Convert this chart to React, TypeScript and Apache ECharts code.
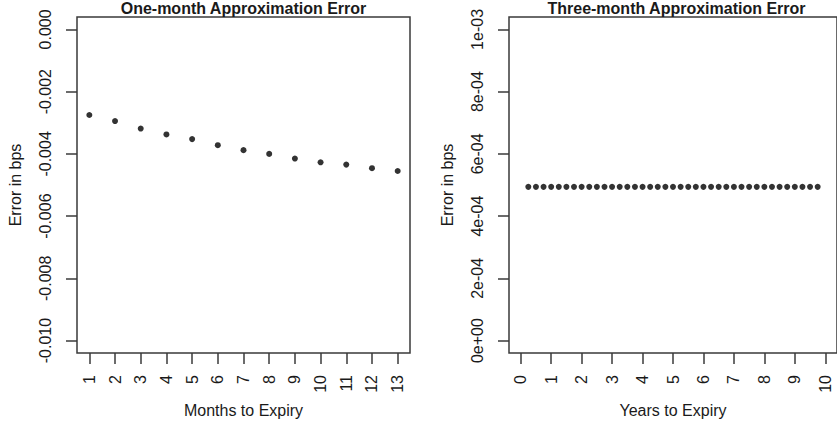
import React, { useEffect, useRef } from "react";
import * as echarts from "echarts";

// Left panel: one-month approximation error
const monthsToExpiry = [1, 2, 3, 4, 5, 6, 7, 8, 9, 10, 11, 12, 13];
const oneMonthError = [
  -0.00275, -0.002945, -0.003185, -0.003375, -0.003525, -0.00372, -0.00388,
  -0.004, -0.00415, -0.00427, -0.004345, -0.00446, -0.00455,
];
const leftYTicks = [-0.01, -0.008, -0.006, -0.004, -0.002, 0];
const leftYTickLabels = ["-0.010", "-0.008", "-0.006", "-0.004", "-0.002", "0.000"];

// Right panel: three-month approximation error
const yearsToExpiry = [
  0.25, 0.5, 0.75, 1, 1.25, 1.5, 1.75, 2, 2.25, 2.5, 2.75, 3, 3.25, 3.5, 3.75,
  4, 4.25, 4.5, 4.75, 5, 5.25, 5.5, 5.75, 6, 6.25, 6.5, 6.75, 7, 7.25, 7.5,
  7.75, 8, 8.25, 8.5, 8.75, 9, 9.25, 9.5, 9.75,
];
const threeMonthError = [
  0.000494, 0.000494, 0.000494, 0.000494, 0.000494, 0.000494, 0.000494,
  0.000494, 0.000494, 0.000494, 0.000494, 0.000494, 0.000494, 0.000494,
  0.000494, 0.000494, 0.000494, 0.000494, 0.000494, 0.000494, 0.000494,
  0.000494, 0.000494, 0.000494, 0.000494, 0.000494, 0.000494, 0.000494,
  0.000494, 0.000494, 0.000494, 0.000494, 0.000494, 0.000494, 0.000494,
  0.000494, 0.000494, 0.000494, 0.000494,
];
const rightXTicks = [0, 1, 2, 3, 4, 5, 6, 7, 8, 9, 10];
const rightYTicks = [0, 0.0002, 0.0004, 0.0006, 0.0008, 0.001];
const rightYTickLabels = ["0e+00", "2e-04", "4e-04", "6e-04", "8e-04", "1e-03"];

const FONT = "'Liberation Sans', Arial, sans-serif";
const TEXT = "#1a1a1a";
const LINE = "#3a3a3a";
const FS = 16;

function labelFor(ticks: number[], labels: string[], v: number): string {
  let best = 0;
  for (let i = 0; i < ticks.length; i++) {
    if (Math.abs(ticks[i] - v) < Math.abs(ticks[best] - v)) best = i;
  }
  return labels[best];
}

export default function App() {
  const ref = useRef<HTMLDivElement>(null);
  useEffect(() => {
    if (!ref.current) return;
    const chart = echarts.init(ref.current, undefined, { renderer: "svg" });

    const axisCommon = {
      axisLine: { show: false, onZero: false },
      splitLine: { show: false },
      axisTick: { show: true, inside: false, length: 11, lineStyle: { color: LINE, width: 1.5 } },
    };
    const labelCommon = {
      color: TEXT,
      fontFamily: FONT,
      fontSize: FS,
      rotate: 90,
    };
    const nameCommon = {
      nameLocation: "middle" as const,
      nameTextStyle: { color: TEXT, fontFamily: FONT, fontSize: FS },
    };

    chart.setOption({
      animation: false,
      backgroundColor: "#ffffff",
      title: [
        {
          text: "One-month Approximation Error",
          left: 243.5,
          top: 0,
          textAlign: "center",
          padding: 0,
          textStyle: { color: TEXT, fontFamily: FONT, fontSize: FS, fontWeight: "bold" },
        },
        {
          text: "Three-month Approximation Error",
          left: 676.5,
          top: 0,
          textAlign: "center",
          padding: 0,
          textStyle: { color: TEXT, fontFamily: FONT, fontSize: FS, fontWeight: "bold" },
        },
      ],
      grid: [
        {
          left: 77,
          top: 17,
          width: 333,
          height: 336,
          show: true,
          borderColor: LINE,
          borderWidth: 1.5,
          containLabel: false,
        },
        {
          left: 509,
          top: 17,
          width: 335,
          height: 336,
          show: true,
          borderColor: LINE,
          borderWidth: 1.5,
          containLabel: false,
        },
      ],
      xAxis: [
        {
          type: "value",
          gridIndex: 0,
          min: 0.52,
          max: 13.48,
          ...axisCommon,
          axisTick: { ...axisCommon.axisTick, customValues: monthsToExpiry },
          axisLabel: {
            ...labelCommon,
            margin: 22,
            customValues: monthsToExpiry,
            formatter: (v: number) => String(Math.round(v)),
          },
          name: "Months to Expiry",
          nameGap: 49,
          ...nameCommon,
        },
        {
          type: "value",
          gridIndex: 1,
          min: -0.385,
          max: 10.385,
          ...axisCommon,
          axisTick: { ...axisCommon.axisTick, customValues: rightXTicks },
          axisLabel: {
            ...labelCommon,
            margin: 22,
            customValues: rightXTicks,
            formatter: (v: number) => String(Math.round(v)),
          },
          name: "Years to Expiry",
          nameGap: 49,
          ...nameCommon,
        },
      ],
      yAxis: [
        {
          type: "value",
          gridIndex: 0,
          min: -0.0104,
          max: 0.0004,
          ...axisCommon,
          axisTick: { ...axisCommon.axisTick, customValues: leftYTicks },
          axisLabel: {
            ...labelCommon,
            margin: 24,
            customValues: leftYTicks,
            formatter: (v: number) => labelFor(leftYTicks, leftYTickLabels, v),
          },
          name: "Error in bps",
          nameGap: 54,
          ...nameCommon,
        },
        {
          type: "value",
          gridIndex: 1,
          min: -0.00004,
          max: 0.00104,
          ...axisCommon,
          axisTick: { ...axisCommon.axisTick, customValues: rightYTicks },
          axisLabel: {
            ...labelCommon,
            margin: 24,
            customValues: rightYTicks,
            formatter: (v: number) => labelFor(rightYTicks, rightYTickLabels, v),
          },
          name: "Error in bps",
          nameGap: 54,
          ...nameCommon,
        },
      ],
      series: [
        {
          type: "scatter",
          xAxisIndex: 0,
          yAxisIndex: 0,
          symbol: "circle",
          symbolSize: 6,
          itemStyle: { color: "#000000" },
          data: monthsToExpiry.map((m, i) => [m, oneMonthError[i]]),
        },
        {
          type: "scatter",
          xAxisIndex: 1,
          yAxisIndex: 1,
          symbol: "circle",
          symbolSize: 6,
          itemStyle: { color: "#000000" },
          data: yearsToExpiry.map((y, i) => [y, threeMonthError[i]]),
        },
      ],
    });
    return () => chart.dispose();
  }, []);

  return (
    <div
      ref={ref}
      style={{ position: "absolute", left: 0, top: 0, width: 837, height: 426, overflow: "hidden" }}
    />
  );
}
